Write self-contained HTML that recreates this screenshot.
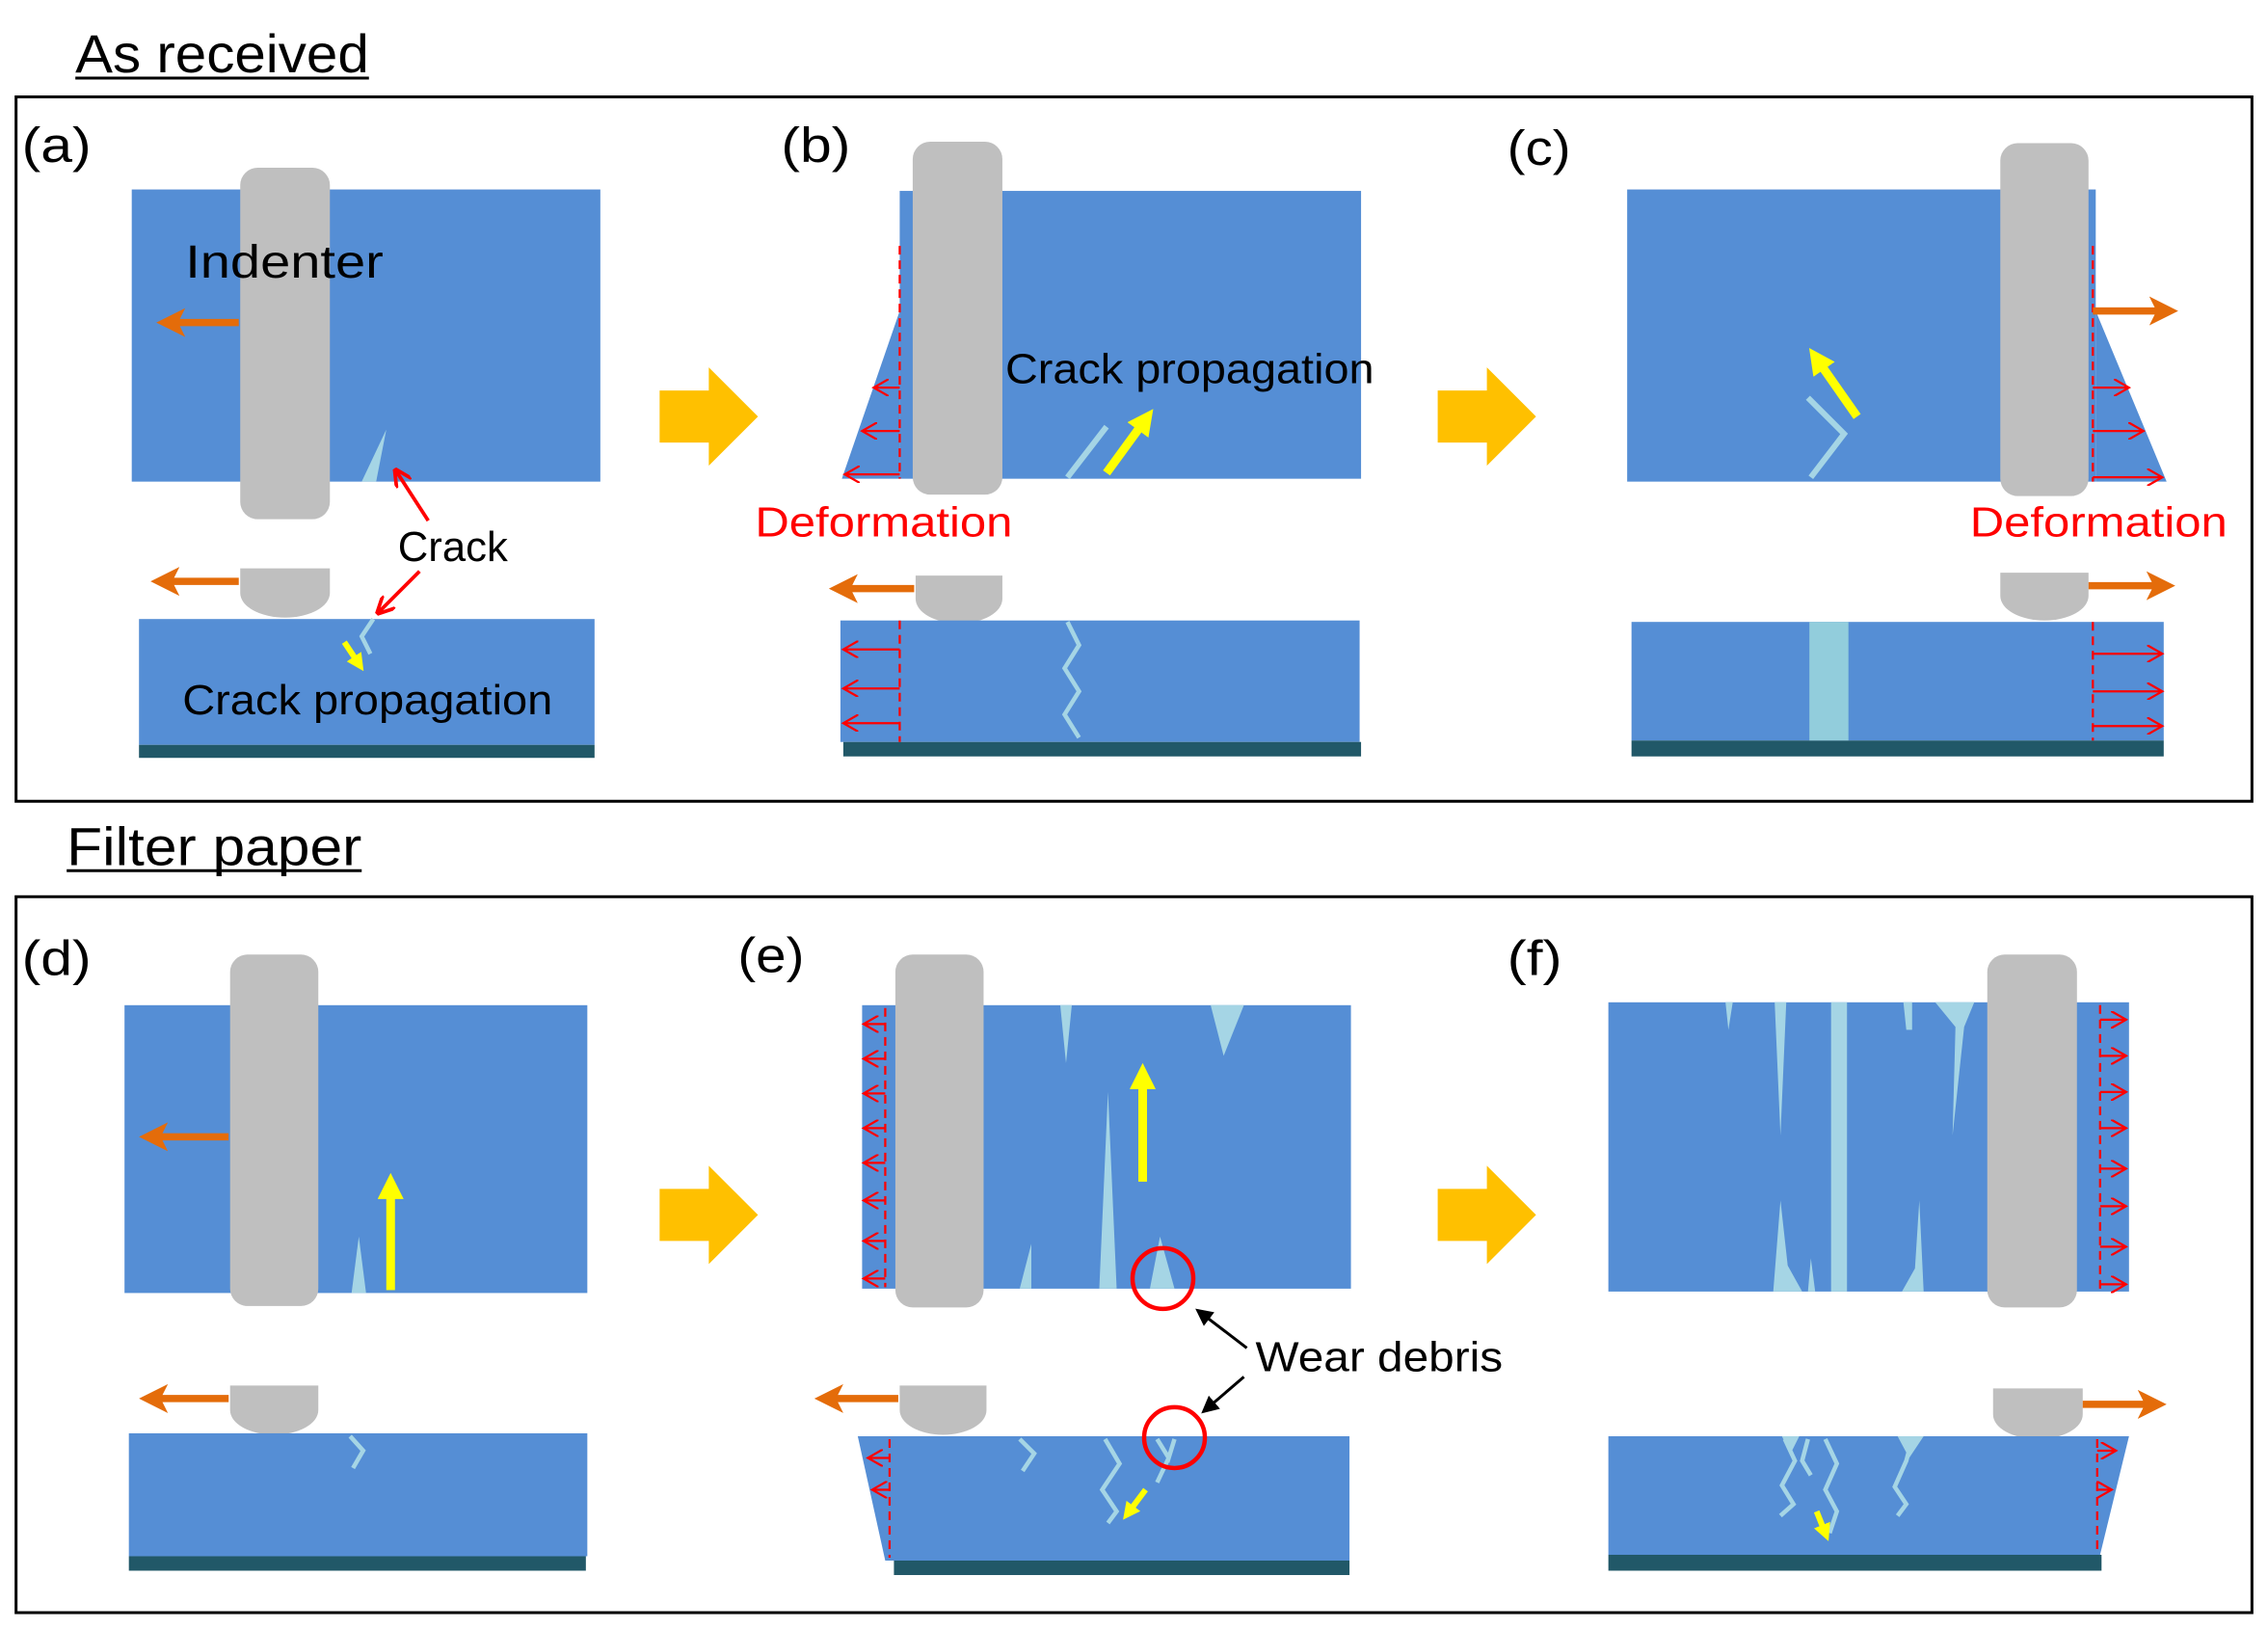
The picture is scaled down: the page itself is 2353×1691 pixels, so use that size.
<!DOCTYPE html>
<html><head><meta charset="utf-8"><style>
html,body{margin:0;padding:0;background:#fff;}
svg{display:block;}
text{font-family:"Liberation Sans",sans-serif;}
</style></head><body>
<svg width="2353" height="1691" viewBox="0 0 1568 1127" xmlns="http://www.w3.org/2000/svg">
<defs>
<marker id="oa" markerWidth="4" markerHeight="4" refX="2" refY="2" orient="auto" markerUnits="strokeWidth"><path d="M0,0 L4,2 L0,4 L1,2 Z" fill="#E46C0A"/></marker>
<marker id="ya" markerWidth="3" markerHeight="3" refX="1.5" refY="1.5" orient="auto" markerUnits="strokeWidth"><path d="M0,0 L3,1.5 L0,3 Z" fill="#FFFF00"/></marker>
<marker id="ra" markerWidth="8" markerHeight="8" refX="7" refY="4" orient="auto" markerUnits="strokeWidth"><path d="M0,0 L7,4 L0,8" fill="none" stroke="#FF0000" stroke-width="1"/></marker>
<marker id="ka" markerWidth="6" markerHeight="6" refX="5" refY="3" orient="auto" markerUnits="strokeWidth"><path d="M0,0 L6,3 L0,6 Z" fill="#000"/></marker>
<marker id="rf" markerWidth="5" markerHeight="5" refX="4" refY="2.5" orient="auto" markerUnits="strokeWidth"><path d="M0,0 L5,2.5 L0,5" fill="none" stroke="#FF0000" stroke-width="1"/></marker>
</defs>
<g fill="none" stroke="#000" stroke-width="2">
<rect x="11" y="67" width="1546" height="487"/>
<rect x="11" y="620" width="1546" height="495"/>
</g>
<text x="52" y="50" font-size="37" textLength="203" lengthAdjust="spacingAndGlyphs">As received</text>
<line x1="52" y1="54" x2="255" y2="54" stroke="#000" stroke-width="2"/>
<text x="46" y="598" font-size="37" textLength="204" lengthAdjust="spacingAndGlyphs">Filter paper</text>
<line x1="46" y1="602" x2="250" y2="602" stroke="#000" stroke-width="2"/>

<g font-size="34">
<text x="15" y="112" textLength="48" lengthAdjust="spacingAndGlyphs">(a)</text><text x="540" y="112" textLength="48" lengthAdjust="spacingAndGlyphs">(b)</text><text x="1042" y="114" textLength="44" lengthAdjust="spacingAndGlyphs">(c)</text>
<text x="15" y="674" textLength="48" lengthAdjust="spacingAndGlyphs">(d)</text><text x="510" y="672" textLength="46" lengthAdjust="spacingAndGlyphs">(e)</text><text x="1042" y="674" textLength="38" lengthAdjust="spacingAndGlyphs">(f)</text>
</g>

<g fill="#FFC000">
<path d="M456,270 H490 V254 L524,288 L490,322 V306 H456 Z"/>
<path d="M994,270 H1028 V254 L1062,288 L1028,322 V306 H994 Z"/>
<path d="M456,822 H490 V806 L524,840 L490,874 V858 H456 Z"/>
<path d="M994,822 H1028 V806 L1062,840 L1028,874 V858 H994 Z"/>
</g>

<!-- (a) -->
<rect x="91" y="131" width="324" height="202" fill="#558ED5"/>
<polygon points="250,333 267,297 260,333" fill="#A5D5E5"/>
<rect x="166" y="116" width="62" height="243" rx="12" fill="#BFBFBF"/>
<text x="128" y="192" font-size="32" textLength="137" lengthAdjust="spacingAndGlyphs">Indenter</text>
<line x1="165" y1="223" x2="118" y2="223" stroke="#E46C0A" stroke-width="5" marker-end="url(#oa)"/>
<path d="M166,393 H228 V410 A31,17 0 0 1 166,410 Z" fill="#BFBFBF"/>
<line x1="165" y1="402" x2="114" y2="402" stroke="#E46C0A" stroke-width="5" marker-end="url(#oa)"/>
<rect x="96" y="428" width="315" height="87" fill="#558ED5"/>
<rect x="96" y="515" width="315" height="9" fill="#215868"/>
<path d="M258,428 L250,440 L256,452" fill="none" stroke="#A5D5E5" stroke-width="3"/>
<line x1="238" y1="444" x2="248" y2="459" stroke="#FFFF00" stroke-width="4" marker-end="url(#ya)"/>
<text x="126" y="494" font-size="29" textLength="256" lengthAdjust="spacingAndGlyphs">Crack propagation</text>
<text x="275" y="388" font-size="29" textLength="76" lengthAdjust="spacingAndGlyphs">Crack</text>
<line x1="296" y1="360" x2="274" y2="326" stroke="#FF0000" stroke-width="2.5" marker-end="url(#rf)"/>
<line x1="290" y1="395" x2="262" y2="423" stroke="#FF0000" stroke-width="2.5" marker-end="url(#rf)"/>

<!-- (b) -->
<rect x="622" y="132" width="319" height="199" fill="#558ED5"/>
<polygon points="622,215 622,331 582,331" fill="#558ED5"/>
<line x1="622" y1="170" x2="622" y2="331" stroke="#FF0000" stroke-width="1.5" stroke-dasharray="6,4"/>
<g stroke="#FF0000" stroke-width="1.5" marker-end="url(#ra)">
<line x1="622" y1="268" x2="604" y2="268"/><line x1="622" y1="298" x2="596" y2="298"/><line x1="622" y1="328" x2="584" y2="328"/>
</g>
<rect x="631" y="98" width="62" height="244" rx="12" fill="#BFBFBF"/>
<path d="M738,330 L765,295" stroke="#A5D5E5" stroke-width="4"/>
<line x1="765" y1="327" x2="792" y2="290" stroke="#FFFF00" stroke-width="6" marker-end="url(#ya)"/>
<text x="695" y="265" font-size="29" textLength="255" lengthAdjust="spacingAndGlyphs">Crack propagation</text>
<text x="522" y="371" font-size="29" fill="#FF0000" textLength="178" lengthAdjust="spacingAndGlyphs">Deformation</text>
<path d="M633,398 H693 V414 A30,17 0 0 1 633,414 Z" fill="#BFBFBF"/>
<line x1="632" y1="407" x2="583" y2="407" stroke="#E46C0A" stroke-width="5" marker-end="url(#oa)"/>
<rect x="581" y="429" width="359" height="84" fill="#558ED5"/>
<rect x="583" y="513" width="358" height="10" fill="#215868"/>
<line x1="622" y1="429" x2="622" y2="513" stroke="#FF0000" stroke-width="1.5" stroke-dasharray="6,4"/>
<g stroke="#FF0000" stroke-width="1.5" marker-end="url(#ra)">
<line x1="622" y1="449" x2="583" y2="449"/><line x1="622" y1="476" x2="583" y2="476"/><line x1="622" y1="500" x2="583" y2="500"/>
</g>
<path d="M738,430 L746,446 L736,462 L746,478 L736,494 L746,510" fill="none" stroke="#A5D5E5" stroke-width="3"/>

<!-- (c) -->
<rect x="1125" y="131" width="324" height="202" fill="#558ED5"/>
<polygon points="1449,215 1449,333 1498,333" fill="#558ED5"/>
<line x1="1447" y1="170" x2="1447" y2="333" stroke="#FF0000" stroke-width="1.5" stroke-dasharray="6,4"/>
<g stroke="#FF0000" stroke-width="1.5" marker-end="url(#ra)">
<line x1="1447" y1="268" x2="1472" y2="268"/><line x1="1447" y1="298" x2="1482" y2="298"/><line x1="1447" y1="330" x2="1495" y2="330"/>
</g>
<rect x="1383" y="99" width="61" height="244" rx="12" fill="#BFBFBF"/>
<line x1="1447" y1="215" x2="1496" y2="215" stroke="#E46C0A" stroke-width="5" marker-end="url(#oa)"/>
<path d="M1250,275 L1275,300 L1252,330" fill="none" stroke="#A5D5E5" stroke-width="4"/>
<line x1="1284" y1="288" x2="1256" y2="248" stroke="#FFFF00" stroke-width="6" marker-end="url(#ya)"/>
<text x="1362" y="371" font-size="29" fill="#FF0000" textLength="178" lengthAdjust="spacingAndGlyphs">Deformation</text>
<path d="M1383,396 H1444 V412 A30.5,17 0 0 1 1383,412 Z" fill="#BFBFBF"/>
<line x1="1444" y1="405" x2="1494" y2="405" stroke="#E46C0A" stroke-width="5" marker-end="url(#oa)"/>
<rect x="1128" y="430" width="368" height="82" fill="#558ED5"/>
<rect x="1128" y="512" width="368" height="11" fill="#215868"/>
<rect x="1251" y="430" width="27" height="82" fill="#92CDDC"/>
<line x1="1447" y1="430" x2="1447" y2="512" stroke="#FF0000" stroke-width="1.5" stroke-dasharray="6,4"/>
<g stroke="#FF0000" stroke-width="1.5" marker-end="url(#ra)">
<line x1="1447" y1="452" x2="1495" y2="452"/><line x1="1447" y1="478" x2="1495" y2="478"/><line x1="1447" y1="502" x2="1495" y2="502"/>
</g>

<!-- (d) -->
<rect x="86" y="695" width="320" height="199" fill="#558ED5"/>
<polygon points="243,894 248,855 253,894" fill="#A5D5E5"/>
<rect x="159" y="660" width="61" height="243" rx="12" fill="#BFBFBF"/>
<line x1="158" y1="786" x2="106" y2="786" stroke="#E46C0A" stroke-width="5" marker-end="url(#oa)"/>
<line x1="270" y1="892" x2="270" y2="820" stroke="#FFFF00" stroke-width="6" marker-end="url(#ya)"/>
<path d="M159,958 H220 V975 A30.5,17 0 0 1 159,975 Z" fill="#BFBFBF"/>
<line x1="158" y1="967" x2="106" y2="967" stroke="#E46C0A" stroke-width="5" marker-end="url(#oa)"/>
<rect x="89" y="991" width="317" height="85" fill="#558ED5"/>
<rect x="89" y="1076" width="316" height="10" fill="#215868"/>
<path d="M242,993 L251,1003 L244,1015" fill="none" stroke="#A5D5E5" stroke-width="3"/>

<!-- (e) -->
<rect x="596" y="695" width="338" height="196" fill="#558ED5"/>
<g fill="#A5D5E5">
<polygon points="733,695 741,695 737,735"/>
<polygon points="837,695 860,695 846,730"/>
<polygon points="760,891 766,755 772,891"/>
<polygon points="705,891 713,860 713,891"/>
<polygon points="795,891 802,855 812,891"/>
</g>
<line x1="612" y1="697" x2="612" y2="890" stroke="#FF0000" stroke-width="1.5" stroke-dasharray="6,4"/>
<g stroke="#FF0000" stroke-width="1.5" marker-end="url(#ra)">
<line x1="612" y1="708" x2="597" y2="708"/><line x1="612" y1="732" x2="597" y2="732"/><line x1="612" y1="756" x2="597" y2="756"/>
<line x1="612" y1="780" x2="597" y2="780"/><line x1="612" y1="804" x2="597" y2="804"/><line x1="612" y1="830" x2="597" y2="830"/>
<line x1="612" y1="858" x2="597" y2="858"/><line x1="612" y1="884" x2="597" y2="884"/>
</g>
<rect x="619" y="660" width="61" height="244" rx="12" fill="#BFBFBF"/>
<line x1="790" y1="817" x2="790" y2="744" stroke="#FFFF00" stroke-width="6" marker-end="url(#ya)"/>
<circle cx="804" cy="884" r="21" fill="none" stroke="#FF0000" stroke-width="3"/>
<text x="868" y="948" font-size="29" textLength="171" lengthAdjust="spacingAndGlyphs">Wear debris</text>
<line x1="862" y1="932" x2="828" y2="906" stroke="#000" stroke-width="2" marker-end="url(#ka)"/>
<line x1="860" y1="952" x2="832" y2="976" stroke="#000" stroke-width="2" marker-end="url(#ka)"/>
<path d="M622,958 H682 V975 A30,17 0 0 1 622,975 Z" fill="#BFBFBF"/>
<line x1="621" y1="967" x2="573" y2="967" stroke="#E46C0A" stroke-width="5" marker-end="url(#oa)"/>
<polygon points="593,993 933,993 933,1079 612,1079" fill="#558ED5"/>
<rect x="618" y="1079" width="315" height="10" fill="#215868"/>
<line x1="615" y1="995" x2="615" y2="1077" stroke="#FF0000" stroke-width="1.5" stroke-dasharray="6,4"/>
<g stroke="#FF0000" stroke-width="1.5" marker-end="url(#ra)">
<line x1="615" y1="1008" x2="600" y2="1008"/><line x1="615" y1="1030" x2="603" y2="1030"/>
</g>
<g fill="none" stroke="#A5D5E5" stroke-width="3">
<path d="M705,995 L715,1005 L707,1017"/>
<path d="M764,995 L774,1012 L762,1030 L772,1045 L766,1053"/>
<path d="M800,995 L808,1008 L812,995 M808,1008 L800,1025"/>
</g>
<circle cx="812" cy="994" r="21" fill="none" stroke="#FF0000" stroke-width="3"/>
<line x1="792" y1="1030" x2="780" y2="1046" stroke="#FFFF00" stroke-width="4" marker-end="url(#ya)"/>

<!-- (f) -->
<rect x="1112" y="693" width="360" height="200" fill="#558ED5"/>
<rect x="1266" y="693" width="11" height="200" fill="#A5D5E5"/>
<g fill="#A5D5E5">
<polygon points="1193,693 1198,693 1195,712"/>
<polygon points="1227,693 1235,693 1231,785"/>
<polygon points="1316,693 1322,693 1322,712 1318,712"/>
<polygon points="1338,693 1365,693 1358,710 1350,785 1352,710"/>
<polygon points="1226,893 1231,830 1236,875 1246,893"/>
<polygon points="1250,893 1252,870 1255,893"/>
<polygon points="1315,893 1324,877 1327,830 1330,893"/>
</g>
<line x1="1452" y1="695" x2="1452" y2="891" stroke="#FF0000" stroke-width="1.5" stroke-dasharray="6,4"/>
<g stroke="#FF0000" stroke-width="1.5" marker-end="url(#ra)">
<line x1="1452" y1="705" x2="1470" y2="705"/><line x1="1452" y1="730" x2="1470" y2="730"/><line x1="1452" y1="755" x2="1470" y2="755"/>
<line x1="1452" y1="780" x2="1470" y2="780"/><line x1="1452" y1="808" x2="1470" y2="808"/><line x1="1452" y1="834" x2="1470" y2="834"/>
<line x1="1452" y1="862" x2="1470" y2="862"/><line x1="1452" y1="888" x2="1470" y2="888"/>
</g>
<rect x="1374" y="660" width="62" height="244" rx="12" fill="#BFBFBF"/>
<path d="M1378,960 H1440 V978 A31,17 0 0 1 1378,978 Z" fill="#BFBFBF"/>
<line x1="1440" y1="971" x2="1488" y2="971" stroke="#E46C0A" stroke-width="5" marker-end="url(#oa)"/>
<polygon points="1112,993 1472,993 1452,1075 1112,1075" fill="#558ED5"/>
<rect x="1112" y="1075" width="341" height="11" fill="#215868"/>
<line x1="1450" y1="995" x2="1450" y2="1073" stroke="#FF0000" stroke-width="1.5" stroke-dasharray="6,4"/>
<g stroke="#FF0000" stroke-width="1.5" marker-end="url(#ra)">
<line x1="1450" y1="1003" x2="1463" y2="1003"/><line x1="1450" y1="1030" x2="1460" y2="1030"/>
</g>
<g fill="none" stroke="#A5D5E5" stroke-width="3">
<path d="M1234,995 L1241,1010 L1232,1027 L1240,1040 L1231,1048"/>
<path d="M1250,995 L1246,1010 L1252,1020"/>
<path d="M1262,995 L1270,1012 L1262,1030 L1270,1045 L1265,1060"/>
<path d="M1322,995 L1318,1010 L1310,1028 L1318,1040 L1312,1048"/>
</g>
<polygon points="1232,993 1244,993 1238,1005" fill="#A5D5E5"/>
<polygon points="1312,993 1330,993 1320,1008" fill="#A5D5E5"/>
<line x1="1256" y1="1045" x2="1262" y2="1060" stroke="#FFFF00" stroke-width="4" marker-end="url(#ya)"/>
</svg>
</body></html>
